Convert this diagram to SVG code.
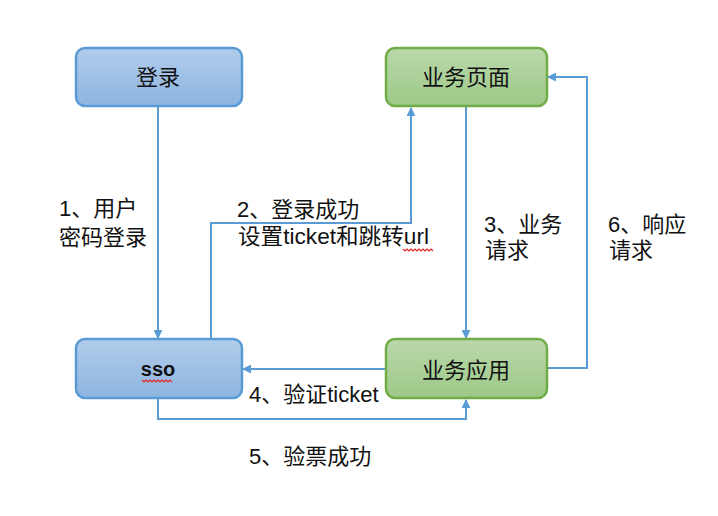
<svg xmlns="http://www.w3.org/2000/svg" width="718" height="516" viewBox="0 0 718 516">
<defs>
<linearGradient id="gb" x1="0" y1="0" x2="0" y2="1">
<stop offset="0" stop-color="#b1cceb"/>
<stop offset="1" stop-color="#8db5e0"/>
</linearGradient>
<linearGradient id="gg" x1="0" y1="0" x2="0" y2="1">
<stop offset="0" stop-color="#bad8ab"/>
<stop offset="1" stop-color="#9dc987"/>
</linearGradient>
<marker id="ah" viewBox="0 0 10 10" refX="9" refY="5" markerWidth="9" markerHeight="9" markerUnits="userSpaceOnUse" orient="auto">
<path d="M0,0 L10,5 L0,10 z" fill="#5b9bd5"/>
</marker>
<style>
.blue{fill:url(#gb);stroke:#5b9bd5;stroke-width:2.5}
.green{fill:url(#gg);stroke:#70ad47;stroke-width:2.5}
.nt{font-family:"Noto Sans CJK SC","Liberation Sans",sans-serif;font-size:22px;fill:#111;text-anchor:middle}
.lb{font-family:"Liberation Sans","Noto Sans CJK SC",sans-serif;font-size:22px;fill:#111}
.ln{fill:none;stroke:#5b9bd5;stroke-width:2;marker-end:url(#ah)}
.sq{fill:none;stroke:#e8251e;stroke-width:1.2}
</style>
</defs>
<g id="connectors">
<path class="ln" d="M158,107 L158,338"/>
<path class="ln" d="M211,338 L211,223 L411,223 L411,108"/>
<path class="ln" d="M466,107 L466,338"/>
<path class="ln" d="M547,368 L587,368 L587,77 L548,77"/>
<path class="ln" d="M386,369 L243,369"/>
<path class="ln" d="M158,399 L158,419 L466,419 L466,400"/>
</g>
<g id="node-login">
<rect class="blue" x="76" y="48" width="166" height="58" rx="9"/>
<text class="nt" x="158" y="85">登录</text>
</g>
<g id="node-page">
<rect class="green" x="386" y="48" width="161" height="58" rx="9"/>
<text class="nt" x="466" y="85">业务页面</text>
</g>
<g id="node-sso">
<rect class="blue" x="76" y="339" width="166" height="59" rx="9"/>
<text x="158" y="376" style="font-family:'Liberation Sans',sans-serif;font-size:20px;font-weight:bold;fill:#111;text-anchor:middle">sso</text>
<path class="sq" d="M142,380 l2,2 l2,-2 l2,2 l2,-2 l2,2 l2,-2 l2,2 l2,-2 l2,2 l2,-2 l2,2 l2,-2 l2,2 l2,-2 l2,2"/>
</g>
<g id="node-app">
<rect class="green" x="386" y="339" width="161" height="59" rx="9"/>
<text class="nt" x="466" y="378">业务应用</text>
</g>
<g id="labels">
<text class="lb" x="59" y="216">1、用户</text>
<text class="lb" x="59" y="245">密码登录</text>
<text class="lb" x="237" y="217">2、登录成功</text>
<text class="lb" x="238" y="244" textLength="191" lengthAdjust="spacingAndGlyphs">设置ticket和跳转url</text>
<path class="sq" d="M403,249 l2,2 l2,-2 l2,2 l2,-2 l2,2 l2,-2 l2,2 l2,-2 l2,2 l2,-2 l2,2 l2,-2 l2,2 l2,-2 l2,2"/>
<text class="lb" x="484" y="232">3、业务</text>
<text class="lb" x="485" y="258">请求</text>
<text class="lb" x="608" y="232">6、响应</text>
<text class="lb" x="609" y="258">请求</text>
<text class="lb" x="249" y="402">4、验证ticket</text>
<text class="lb" x="249" y="464">5、验票成功</text>
</g>
</svg>
